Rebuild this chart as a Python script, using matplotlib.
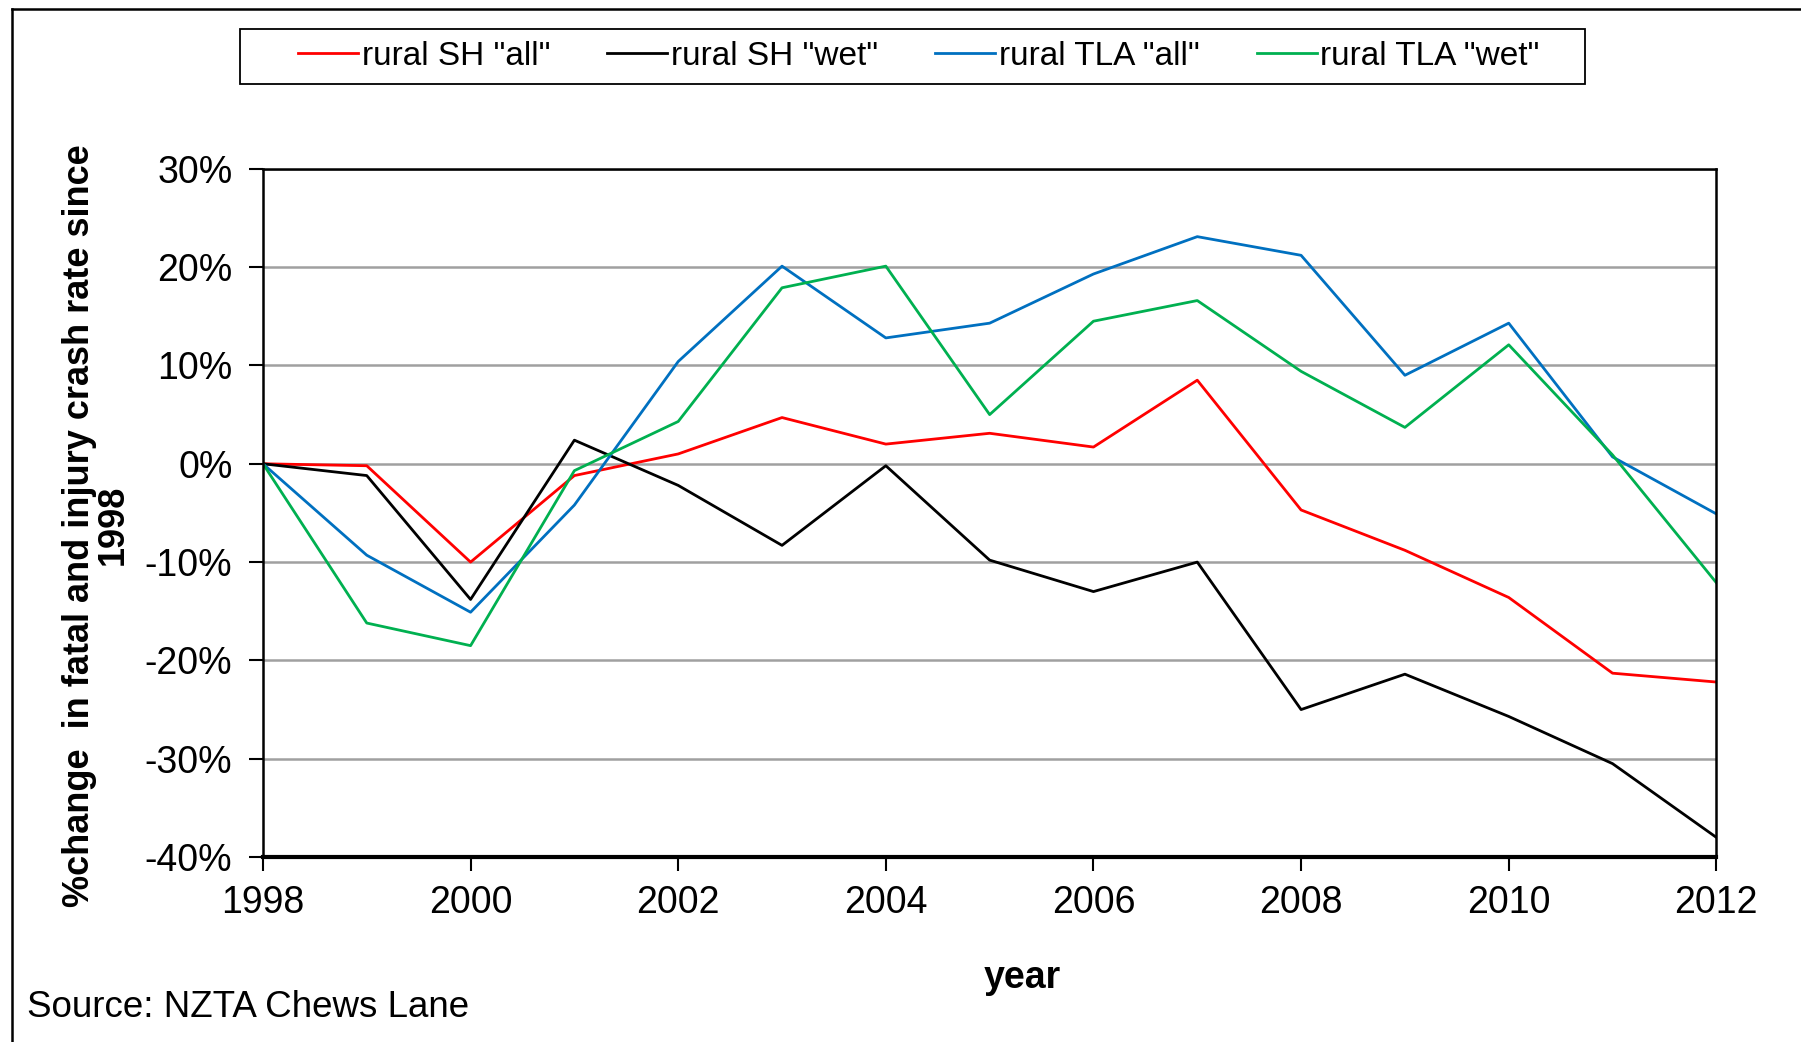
import matplotlib
matplotlib.use('Agg')
import matplotlib.pyplot as plt
from matplotlib.lines import Line2D
from matplotlib.patches import Rectangle
from matplotlib.ticker import FuncFormatter

plt.rcParams['font.family'] = ['Liberation Sans', 'DejaVu Sans']

years = list(range(1998, 2013))

# % change in fatal and injury crash rate since 1998
sh_all = [0, -0.2, -10.0, -1.2, 1.0, 4.7, 2.0, 3.1, 1.7, 8.5, -4.7, -8.8, -13.6, -21.3, -22.2]
sh_wet = [0, -1.2, -13.8, 2.4, -2.2, -8.3, -0.2, -9.8, -13.0, -10.0, -25.0, -21.4, -25.7, -30.5, -38.0]
tla_all = [0, -9.3, -15.1, -4.2, 10.4, 20.1, 12.8, 14.3, 19.3, 23.1, 21.2, 9.0, 14.3, 0.7, -5.1]
tla_wet = [0, -16.2, -18.5, -0.7, 4.3, 17.9, 20.1, 5.0, 14.5, 16.6, 9.4, 3.7, 12.1, 0.9, -12.1]

series_names = ['rural SH "all"', 'rural SH "wet"', 'rural TLA "all"', 'rural TLA "wet"']
series_colors = ['#FF0000', '#000000', '#0070C0', '#00B050']

fig = plt.figure(figsize=(18.01, 10.42), dpi=100)
ax = fig.add_axes([0.146, 0.1775, 0.807, 0.6605])

for vals, name, col in zip([sh_all, sh_wet, tla_all, tla_wet], series_names, series_colors):
    ax.plot(years, vals, color=col, lw=2.0, label=name)

ax.set_xlim(1998, 2012)
ax.set_ylim(-40, 30)
ax.set_xticks(range(1998, 2013, 2))
ax.set_yticks(range(-40, 31, 10))
ax.yaxis.set_major_formatter(FuncFormatter(lambda v, p: '%d%%' % v))
ax.grid(axis='y', color='#A0A0A0', lw=1.8)
ax.set_axisbelow(True)
ax.tick_params(axis='both', direction='out', length=10, width=1.5, labelsize=27)
ax.tick_params(axis='y', pad=12)
ax.tick_params(axis='x', pad=10)
for side in ['top', 'right', 'left']:
    ax.spines[side].set_linewidth(1.8)
ax.spines['bottom'].set_linewidth(3)

ax.set_xlabel('year', fontsize=27, fontweight='bold')
ax.xaxis.set_label_coords(0.5225, -0.150)

# y axis title placed in figure coordinates
fig.text(0.0536, 0.496, '%change  in fatal and injury crash rate since\n1998', fontsize=26,
         fontweight='bold', rotation=90, ha='center', va='center', multialignment='center',
         linespacing=0.95)

leg = fig.legend(loc='center', bbox_to_anchor=(0.5102, 0.946), ncol=4, fontsize=24,
                 frameon=False, handlelength=1.8, handletextpad=0.1, columnspacing=1.72)

# legend box drawn separately (wider padding than matplotlib gives)
fig.add_artist(Rectangle((0.1333, 0.9195), 0.7468, 0.0529, transform=fig.transFigure,
                         fill=False, edgecolor='black', lw=1.3))

fig.text(0.015, 0.033, 'Source: NZTA Chews Lane', fontsize=26.5, ha='left', va='center')

# outer frame (left and top edges visible)
fig.add_artist(Line2D([0.0064, 0.0064], [0, 0.991], color='black', lw=1.8, transform=fig.transFigure))
fig.add_artist(Line2D([0.0064, 1.0], [0.991, 0.991], color='black', lw=1.8, transform=fig.transFigure))

fig.savefig('out.png', dpi=100)
